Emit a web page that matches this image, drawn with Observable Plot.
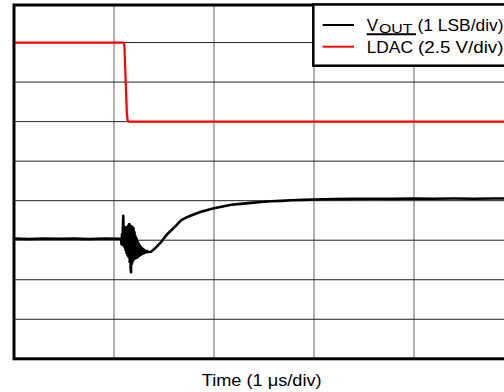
<!DOCTYPE html>
<html>
<head>
<meta charset="utf-8">
<script src="https://cdn.jsdelivr.net/npm/d3@7"></script>
<script src="https://cdn.jsdelivr.net/npm/@observablehq/plot@0.6"></script>
<style>
  html, body { margin: 0; padding: 0; overflow: hidden; background: #fff; }
  #chart { width: 504px; height: 392px; overflow: hidden; }
  #chart svg { display: block; max-width: none !important; }
</style>
</head>
<body>
<div id="chart"></div>
<script>
// ---- data (time in µs, values in divisions) ----
const voutTime = [0, 0.15, 0.3, 0.45, 0.6, 0.75, 0.9, 1.05, 1.07,
  1.075, 1.08, 1.085, 1.09, 1.093, 1.096, 1.1, 1.105, 1.11, 1.115, 1.12, 1.125, 1.13, 1.135, 1.14, 1.145,
  1.15, 1.153, 1.157, 1.162, 1.166, 1.17, 1.175, 1.18, 1.185, 1.19, 1.195, 1.2, 1.205, 1.21, 1.215, 1.22,
  1.225, 1.23, 1.235, 1.24, 1.245, 1.25, 1.255, 1.26, 1.265, 1.27, 1.275, 1.28, 1.285, 1.29, 1.295, 1.3,
  1.31, 1.32, 1.33, 1.34, 1.37, 1.4, 1.42, 1.47, 1.52, 1.57, 1.62, 1.67, 1.72, 1.77, 1.87, 2.0, 2.1, 2.17,
  2.27, 2.37, 2.47, 2.57, 2.67, 2.77, 2.9, 3.0, 3.2, 3.4, 3.6, 3.8, 4.0, 4.2, 4.4, 4.6, 4.8, 5.0];
const voutValues = [3.04, 3.03, 3.045, 3.035, 3.04, 3.03, 3.045, 3.035, 3.04,
  2.9, 3.15, 2.88, 3.4, 3.62, 2.95, 3.3, 2.82, 3.33, 2.75, 3.3, 2.68, 3.32, 2.62, 3.36, 2.58,
  3.4, 3.41, 2.45, 3.37, 2.3, 2.19, 3.35, 2.4, 3.33, 2.48, 3.3, 2.52, 3.2, 2.54, 3.1, 2.55,
  3.05, 2.56, 2.98, 2.58, 2.92, 2.6, 2.88, 2.62, 2.84, 2.63, 2.81, 2.65, 2.79, 2.66, 2.77, 2.67,
  2.74, 2.69, 2.73, 2.7, 2.71, 2.77, 2.82, 2.95, 3.12, 3.245, 3.37, 3.5, 3.57, 3.625, 3.72, 3.81, 3.86, 3.895,
  3.92, 3.945, 3.965, 3.985, 3.995, 4.01, 4.02, 4.03, 4.04, 4.045, 4.05, 4.045, 4.055, 4.05, 4.055, 4.05, 4.055, 4.055];

const ldacTime = [0, 1.1, 1.105, 1.113, 1.121, 1.129, 1.136, 1.145, 1.16, 5.0];
const ldacValues = [8.0, 8.0, 7.85, 7.3, 6.7, 6.2, 6.04, 6.0, 6.0, 6.0];

const xGridTicks = [1, 2, 3, 4, 5];
const yGridTicks = [1, 2, 3, 4, 5, 6, 7, 8];

const seriesLabels = ["(1 LSB/div)", "(2.5 V/div)"];
const seriesColors = ["#000000", "#ff0000"];
const xLabel = "Time (1 \u03bcs/div)";

// ---- tables ----
const vout = voutTime.map((t, i) => ({t, v: voutValues[i]}));
const ldac = ldacTime.map((t, i) => ({t, v: ldacValues[i]}));

const W = 523, H = 392;
const chart = Plot.plot({
  width: W,
  height: H,
  marginLeft: 13.5,
  marginRight: 9.5,
  marginTop: 4.5,
  marginBottom: 33.7,
  x: {domain: [0, 5], axis: null},
  y: {domain: [0, 8.95], axis: null},
  style: {fontFamily: "'Liberation Sans', Arial, sans-serif", background: "#fff"},
  marks: [
    Plot.ruleX(xGridTicks, {stroke: "#666", strokeWidth: 1}),
    Plot.ruleY(yGridTicks, {stroke: "#222", strokeWidth: 1}),
    Plot.line(ldac, {x: "t", y: "v", stroke: seriesColors[1], strokeWidth: 2.2}),
    Plot.line(vout, {x: "t", y: "v", stroke: seriesColors[0], strokeWidth: 2.6}),
    Plot.frame({stroke: "#000", strokeWidth: 3})
  ]
});
chart.style.maxWidth = "none";
chart.style.width = W + "px";
chart.style.height = H + "px";

// ---- legend and caption ----
const svg = d3.select(chart);
const font = "'Liberation Sans', Arial, sans-serif";
const lg = svg.append("g").attr("font-family", font).attr("fill", "#000").attr("text-anchor", "start");
lg.append("rect").attr("x", 313.3).attr("y", 4.5).attr("width", 260).attr("height", 61.2)
  .attr("fill", "#fff").attr("stroke", "#000").attr("stroke-width", 2.5);
lg.append("line").attr("x1", 322.7).attr("x2", 354).attr("y1", 25).attr("y2", 25)
  .attr("stroke", seriesColors[0]).attr("stroke-width", 2);
lg.append("line").attr("x1", 322.7).attr("x2", 354).attr("y1", 46.7).attr("y2", 46.7)
  .attr("stroke", seriesColors[1]).attr("stroke-width", 2);
// V_OUT
lg.append("text").attr("x", 366.7).attr("y", 30.7).attr("font-size", 17).text("V");
lg.append("text").attr("x", 379).attr("y", 33).attr("font-size", 13)
  .attr("textLength", 33.5).attr("lengthAdjust", "spacingAndGlyphs").text("OUT");
lg.append("text").attr("x", 417.5).attr("y", 30.7).attr("font-size", 17)
  .attr("textLength", 86).attr("lengthAdjust", "spacingAndGlyphs").text(seriesLabels[0]);
// overline of LDAC
lg.append("line").attr("x1", 366.7).attr("x2", 416).attr("y1", 34.3).attr("y2", 34.3)
  .attr("stroke", "#000").attr("stroke-width", 2);
lg.append("text").attr("x", 366.7).attr("y", 52.7).attr("font-size", 17)
  .attr("textLength", 46.3).attr("lengthAdjust", "spacingAndGlyphs").text("LDAC");
lg.append("text").attr("x", 418).attr("y", 52.7).attr("font-size", 17)
  .attr("textLength", 85.5).attr("lengthAdjust", "spacingAndGlyphs").text(seriesLabels[1]);

svg.append("text").attr("x", 201.7).attr("y", 386).attr("font-family", font)
  .attr("text-anchor", "start")
  .attr("font-size", 17).attr("textLength", 120).attr("lengthAdjust", "spacingAndGlyphs")
  .attr("fill", "#000").text(xLabel);

document.getElementById("chart").appendChild(chart);
</script>
</body>
</html>
